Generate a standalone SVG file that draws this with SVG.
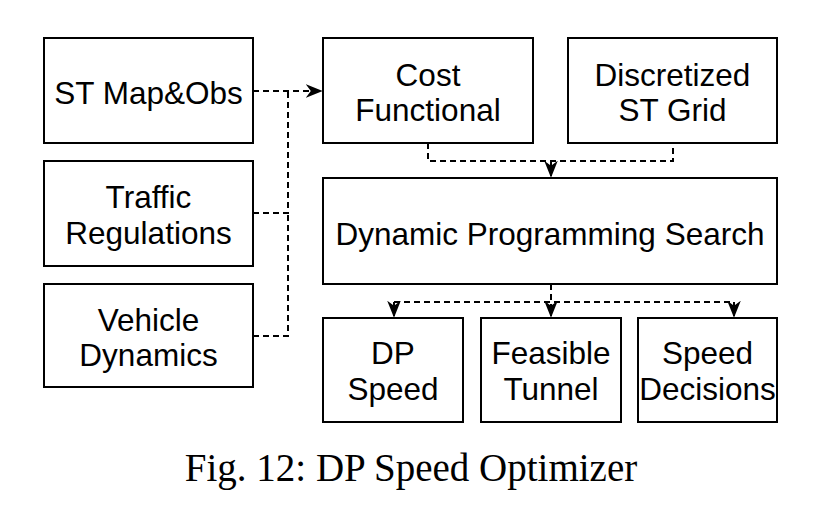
<svg xmlns="http://www.w3.org/2000/svg" width="834" height="529" viewBox="0 0 834 529">
<defs>
<style>
.box{fill:#fff;stroke:#000;stroke-width:2}
.t{font-family:"Liberation Sans",Arial,sans-serif;font-size:31.5px;text-anchor:middle;fill:#000}
.c{fill:none;stroke:#000;stroke-width:2;stroke-dasharray:6,4}
.cap{font-family:"Liberation Serif","Times New Roman",serif;font-size:39px;text-anchor:middle;fill:#000}
</style>
<marker id="a" viewBox="0 0 10 10" refX="9" refY="5" markerWidth="17" markerHeight="17" orient="auto" markerUnits="userSpaceOnUse">
<path d="M0,1 L10,5 L0,9 L3,5 Z" fill="#000"/>
</marker>
</defs>
<rect width="834" height="529" fill="#fff"/>
<g id="connectors">
<path class="c" d="M253,91 H321" marker-end="url(#a)"/>
<path class="c" d="M253,213 H288 V91"/>
<path class="c" d="M253,336 H288 V213"/>
<path class="c" d="M428,143 V161 H673 V143"/>
<path class="c" d="M551,161 V176" marker-end="url(#a)"/>
<path class="c" d="M551,284 V316" marker-end="url(#a)"/>
<path class="c" d="M394,302 H734"/>
<path class="c" d="M394,302 V316" marker-end="url(#a)"/>
<path class="c" d="M734,302 V316" marker-end="url(#a)"/>
</g>
<g id="st-map"><rect class="box" x="44" y="38" width="209" height="105"/><text class="t" x="148.5" y="104">ST Map&amp;Obs</text></g>
<g id="traffic"><rect class="box" x="44" y="161" width="209" height="105"/><text class="t" x="148.5" y="208">Traffic</text><text class="t" x="148.5" y="244">Regulations</text></g>
<g id="vehicle"><rect class="box" x="44" y="284" width="209" height="103"/><text class="t" x="148.5" y="331">Vehicle</text><text class="t" x="148.5" y="366">Dynamics</text></g>
<g id="cost"><rect class="box" x="323" y="38" width="210" height="105"/><text class="t" x="428" y="86">Cost</text><text class="t" x="428" y="121">Functional</text></g>
<g id="grid"><rect class="box" x="568" y="38" width="209" height="105"/><text class="t" x="672.5" y="86">Discretized</text><text class="t" x="672.5" y="121">ST Grid</text></g>
<g id="dp-search"><rect class="box" x="323" y="178" width="454" height="106"/><text class="t" x="550" y="245">Dynamic Programming Search</text></g>
<g id="dp-speed"><rect class="box" x="323" y="318" width="140" height="104"/><text class="t" x="393" y="364">DP</text><text class="t" x="393" y="400">Speed</text></g>
<g id="tunnel"><rect class="box" x="481" y="318" width="140" height="104"/><text class="t" x="551" y="364">Feasible</text><text class="t" x="551" y="400">Tunnel</text></g>
<g id="decisions"><rect class="box" x="638" y="318" width="139" height="104"/><text class="t" x="707.5" y="364">Speed</text><text class="t" x="707.5" y="400">Decisions</text></g>
<text class="cap" x="411" y="481">Fig. 12: DP Speed Optimizer</text>
</svg>
